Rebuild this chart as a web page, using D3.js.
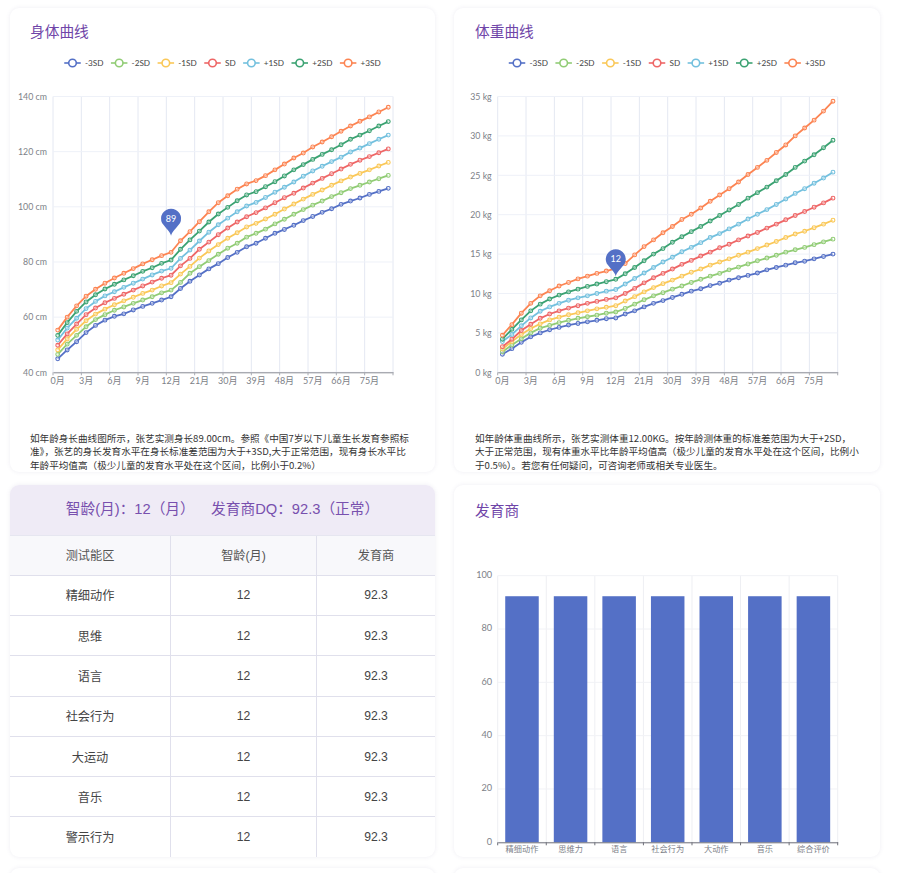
<!DOCTYPE html>
<html>
<head>
<meta charset="utf-8">
<script src="https://cdn.jsdelivr.net/npm/d3@7"></script>
<style>
  html, body { margin: 0; padding: 0; background: #fff; }
  body { position: relative; width: 900px; height: 873px; overflow: hidden; font-family: "Noto Sans CJK SC", sans-serif; }
  .card { position: absolute; background: #fff; border-radius: 9px; box-shadow: 0 0 4px rgba(90, 80, 140, 0.10); overflow: hidden; }
  .title { position: absolute; color: #6f45a8; font-size: 14.7px; line-height: 20px; }
  .desc { position: absolute; color: #333; font-size: 9.6px; line-height: 13.4px; white-space: nowrap; }
  #page { position: absolute; left: 0; top: 0; }
  .dq-head { position: absolute; left: 0; top: 0; width: 100%; height: 49.5px; line-height: 49.5px; background: #efebf6; color: #7850ae; font-size: 14.7px; text-align: center; font-family: "Liberation Sans", "Noto Sans CJK SC", sans-serif; white-space: pre; }
  table { position: absolute; left: 0; top: 49.5px; width: 425px; border-collapse: collapse; table-layout: fixed; font-family: "Liberation Sans", "Noto Sans CJK SC", sans-serif; font-size: 12.2px; color: #444; }
  th, td { text-align: center; padding: 0; height: 39.3px; border-left: 1px solid #e0e0ec; border-top: 1px solid #e0e0ec; font-weight: normal; }
  th { background: #f8f8fb; height: 39.2px; color: #555; }
  th:first-child, td:first-child { border-left: none; }
  th { border-top: 1px solid #e6e6f0; }
</style>
</head>
<body>
<script>
const months = ["0月","1月","2月","3月","4月","5月","6月","7月","8月","9月","10月","11月","12月",
  "15月","18月","21月","24月","27月","30月","33月","36月","39月","42月","45月","48月","51月","54月","57月","60月","63月","66月","69月","72月","75月","78月","81月"];
const sdNames = ["-3SD","-2SD","-1SD","SD","+1SD","+2SD","+3SD"];
const sdColors = ["#5470c6","#91cc75","#fac858","#ee6666","#73c0de","#3ba272","#fc8452"];

// 身长 cm
const heightM3 = [44.9,48.1,51.1,54.4,57.0,58.9,60.3,61.2,62.6,63.9,65.0,66.2,67.4,70.4,73.0,75.3,77.5,79.4,81.6,83.5,85.5,86.8,88.6,90.4,91.8,93.3,95.0,96.5,98.0,99.3,100.9,102.1,103.2,104.5,105.6,106.7];
const heightM2 = [46.5,50.2,53.4,56.5,59.1,60.9,62.5,63.7,65.0,66.2,67.4,68.8,69.8,72.6,75.9,78.3,80.5,82.8,85.0,86.8,89.0,90.4,91.9,93.8,95.5,97.3,99.0,100.6,102.1,103.7,105.1,106.6,107.8,109.0,110.2,111.4];
const heightM1 = [48.1,52.1,55.6,58.7,61.1,62.9,64.5,65.9,67.2,68.6,69.8,71.3,72.5,75.6,78.4,81.4,84.0,86.3,88.6,90.6,92.7,94.0,95.6,97.3,99.2,101.0,102.8,104.5,106.1,107.8,109.4,110.8,112.1,113.4,114.8,116.1];
const heightSD = [49.8,53.9,57.5,60.9,63.3,65.2,66.8,68.3,69.8,71.3,72.7,74.1,75.2,78.6,81.3,84.6,87.2,89.9,92.3,94.5,96.4,97.9,99.6,101.5,103.3,104.9,106.8,108.6,110.3,112.0,113.7,115.4,116.9,118.2,119.6,121.0];
const heightP1 = [51.7,56.0,59.6,63.1,65.7,67.7,69.2,70.8,72.3,73.8,75.3,76.7,77.7,81.3,84.3,87.6,90.8,93.5,95.9,98.2,100.3,101.6,103.4,105.3,107.1,109.0,111.1,113.0,114.7,116.4,118.0,119.9,121.3,122.9,124.5,126.0];
const heightP2 = [53.4,58.0,62.1,65.5,68.1,70.2,71.9,73.5,75.0,76.6,77.9,79.5,80.7,84.6,88.0,91.2,94.5,97.4,99.8,102.2,104.3,105.5,107.3,109.1,111.2,113.4,115.3,117.2,119.0,120.7,122.5,124.5,126.0,127.6,129.3,130.9];
const heightP3 = [55.3,60.0,64.1,67.6,70.1,72.3,74.2,75.9,77.6,79.3,80.8,82.3,83.5,87.7,91.0,94.6,98.2,101.5,104.0,106.4,108.3,109.5,111.3,113.4,115.5,117.7,119.5,121.7,123.5,125.4,127.4,129.3,131.0,132.6,134.4,136.1];

// 体重 kg
const weightM3 = [2.3,3.0,3.8,4.5,5.0,5.4,5.7,6.0,6.2,6.4,6.6,6.8,6.9,7.4,7.8,8.3,8.75,9.1,9.5,9.9,10.3,10.6,11.0,11.3,11.7,12.0,12.3,12.6,13.0,13.3,13.6,13.9,14.1,14.4,14.7,15.0];
const weightM2 = [2.6,3.45,4.25,5.0,5.6,5.95,6.3,6.6,6.85,7.05,7.25,7.5,7.65,8.1,8.65,9.2,9.7,10.1,10.55,10.95,11.4,11.8,12.2,12.55,13.0,13.35,13.75,14.15,14.5,14.85,15.25,15.55,15.85,16.2,16.55,16.9];
const weightM1 = [2.95,3.9,4.8,5.55,6.15,6.65,7.0,7.3,7.55,7.8,8.05,8.25,8.45,9.05,9.6,10.2,10.75,11.25,11.7,12.2,12.7,13.1,13.6,14.0,14.4,14.85,15.25,15.7,16.15,16.6,17.1,17.55,17.9,18.35,18.8,19.3];
const weightSD = [3.25,4.2,5.3,6.1,6.85,7.4,7.8,8.15,8.45,8.75,9.0,9.25,9.45,10.0,10.65,11.35,12.0,12.55,13.1,13.7,14.2,14.75,15.25,15.8,16.25,16.8,17.3,17.75,18.3,18.8,19.35,19.9,20.4,20.95,21.5,22.1];
const weightP1 = [3.9,4.8,5.9,6.9,7.75,8.3,8.75,9.15,9.45,9.7,10.0,10.3,10.5,11.2,11.9,12.6,13.3,14.0,14.6,15.3,15.85,16.45,17.1,17.6,18.2,18.8,19.45,20.05,20.65,21.3,22.0,22.7,23.3,24.0,24.65,25.4];
const weightP2 = [4.2,5.45,6.65,7.8,8.65,9.3,9.8,10.2,10.55,10.9,11.2,11.5,11.8,12.5,13.3,14.15,15.0,15.7,16.5,17.2,17.85,18.5,19.2,19.9,20.6,21.3,22.1,22.8,23.5,24.3,25.1,26.0,26.8,27.6,28.5,29.45];
const weightP3 = [4.7,6.05,7.5,8.75,9.7,10.35,10.95,11.4,11.85,12.2,12.55,12.85,13.2,13.8,14.9,15.95,16.8,17.7,18.5,19.4,20.05,20.85,21.7,22.5,23.3,24.15,25.1,26.0,26.9,27.9,28.85,30.0,31.0,32.0,33.15,34.4];

const heightTicks = [40,60,80,100,120,140];
const weightTicks = [0,5,10,15,20,25,30,35];

const areas = ["精细动作","思维","语言","社会行为","大运动","音乐","警示行为"];
const areaAges = [12,12,12,12,12,12,12];
const areaDQ = [92.3,92.3,92.3,92.3,92.3,92.3,92.3];
const barNames = ["精细动作","思维力","语言","社会行为","大动作","音乐","综合评价"];
const barValues = [92.3,92.3,92.3,92.3,92.3,92.3,92.3];
const barTicks = [0,20,40,60,80,100];

const heightText = ["如年龄身长曲线图所示，张艺实测身长89.00cm。参照《中国7岁以下儿童生长发育参照标",
  "准》，张艺的身长发育水平在身长标准差范围为大于+3SD,大于正常范围，现有身长水平比",
  "年龄平均值高（极少儿童的发育水平处在这个区间，比例小于0.2%）"];
const weightText = ["如年龄体重曲线所示，张艺实测体重12.00KG。按年龄测体重的标准差范围为大于+2SD，",
  "大于正常范围，现有体重水平比年龄平均值高（极少儿童的发育水平处在这个区间，比例小",
  "于0.5%）。若您有任何疑问，可咨询老师或相关专业医生。"];

const body = d3.select("body");

function addCard(x, y, w, h) {
  return body.append("div").attr("class", "card")
    .style("left", x + "px").style("top", y + "px")
    .style("width", w + "px").style("height", h + "px");
}
function addTitle(text, x, y) {
  body.append("div").attr("class", "title")
    .style("left", x + "px").style("top", y + "px").text(text);
}
function addDesc(lines, x, y) {
  const d = body.append("div").attr("class", "desc")
    .style("left", x + "px").style("top", y + "px");
  lines.forEach(l => d.append("div").text(l));
}

addCard(10, 8, 425, 464);
addCard(454, 8, 426, 464);
const dqCard = addCard(10, 485, 425, 372);
addCard(454, 485, 426, 372);
addCard(10, 868, 425, 40);
addCard(454, 868, 426, 40);

addTitle("身体曲线", 30, 20.5);
addTitle("体重曲线", 475, 20.5);
addTitle("发育商", 475, 500);
addDesc(heightText, 30, 432);
addDesc(weightText, 475, 432);

// 能区表
dqCard.append("div").attr("class", "dq-head").text("智龄(月)：12（月）    发育商DQ：92.3（正常）");
const table = dqCard.append("table");
const colgroup = table.append("colgroup");
[160.5, 146, 118.5].forEach(w => colgroup.append("col").style("width", w + "px"));
const headRow = table.append("thead").append("tr");
["测试能区","智龄(月)","发育商"].forEach(t => headRow.append("th").text(t));
const rows = table.append("tbody").selectAll("tr").data(areas).enter().append("tr");
rows.append("td").text(d => d);
rows.append("td").text((d, i) => areaAges[i]);
rows.append("td").text((d, i) => areaDQ[i]);

const svg = body.append("svg").attr("id", "page").attr("width", 900).attr("height", 873);
const latin = "Lato, 'Noto Sans CJK SC', sans-serif";

function drawLegend(cx, y) {
  const g = svg.append("g").attr("transform", `translate(0,${y})`);
  let pos = 0;
  sdNames.forEach((name, i) => {
    const item = g.append("g").attr("transform", `translate(${pos},0)`);
    item.append("line").attr("x1", 0).attr("x2", 16.5)
      .attr("stroke", sdColors[i]).attr("stroke-width", 1.6);
    item.append("circle").attr("cx", 8.25).attr("r", 3.8)
      .attr("fill", "#fff").attr("stroke", sdColors[i]).attr("stroke-width", 1.6);
    const t = item.append("text").attr("x", 20.7).attr("dy", "0.35em")
      .attr("fill", "#444").attr("font-size", 8.2).attr("font-family", latin).text(name);
    pos += 20.7 + t.node().getComputedTextLength() + 7.5;
  });
  g.attr("transform", `translate(${cx - (pos - 7.5) / 2},${y})`);
}

function drawCurves(left, yDomain, yTicks, unit, series, pinIndex, pinValue) {
  const margin = { top: 96.5, bottom: 372.3 };
  const width = 340;
  const g = svg.append("g");

  const x = d3.scaleBand().domain(months).range([left, left + width]);
  const y = d3.scaleLinear().domain(yDomain).range([margin.bottom, margin.top]);

  // 纵向网格 每3个类目一条
  const splitX = months.filter((d, i) => i % 3 === 0).map(d => x(d)).concat([left + width]);
  g.selectAll(".vgrid").data(splitX).enter().append("line")
    .attr("x1", d => d).attr("x2", d => d)
    .attr("y1", margin.top).attr("y2", margin.bottom)
    .attr("stroke", "#e4e8f2").attr("stroke-width", 1);
  g.selectAll(".hgrid").data(yTicks).enter().append("line")
    .attr("x1", left).attr("x2", left + width)
    .attr("y1", d => y(d)).attr("y2", d => y(d))
    .attr("stroke", "#eef1f8").attr("stroke-width", 1);

  const yAxis = g.append("g").attr("transform", `translate(${left},0)`)
    .call(d3.axisLeft(y).tickValues(yTicks).tickSize(0).tickPadding(6).tickFormat(d => d + " " + unit));
  yAxis.select(".domain").remove();
  yAxis.selectAll("text").attr("fill", "#7d7f88").attr("font-size", 8.8).attr("font-family", latin);

  const xAxis = g.append("g").attr("transform", `translate(0,${margin.bottom})`)
    .call(d3.axisBottom(x).tickValues(months.filter((d, i) => i % 3 === 0)).tickSize(0).tickPadding(5));
  xAxis.select(".domain").attr("stroke", "#8a8c94");
  xAxis.selectAll("text").attr("fill", "#7d7f88").attr("font-size", 9).attr("font-family", latin);
  g.selectAll(".xtick").data(splitX).enter().append("line")
    .attr("x1", d => d).attr("x2", d => d)
    .attr("y1", margin.bottom).attr("y2", margin.bottom + 3)
    .attr("stroke", "#a8aab2");

  const line = d3.line().x((d, i) => x(months[i]) + x.bandwidth() / 2).y(d => y(d));
  series.forEach((values, s) => {
    g.append("path").datum(values).attr("d", line)
      .attr("fill", "none").attr("stroke", sdColors[s]).attr("stroke-width", 1.8);
    g.selectAll(".pt" + s).data(values).enter().append("circle")
      .attr("cx", (d, i) => x(months[i]) + x.bandwidth() / 2)
      .attr("cy", d => y(d)).attr("r", 1.9)
      .attr("fill", "#fff").attr("fill-opacity", 0.45)
      .attr("stroke", sdColors[s]).attr("stroke-width", 1.1);
  });

  // 标记点
  const r = 10, cy = -17;
  const pin = d3.path();
  pin.moveTo(0, 0);
  pin.bezierCurveTo(-0.8, -4, -5.5, -7.5, -r * Math.cos(Math.PI / 7), cy + r * Math.sin(Math.PI / 7));
  pin.arc(0, cy, r, Math.PI * 6 / 7, Math.PI / 7);
  pin.bezierCurveTo(5.5, -7.5, 0.8, -4, 0, 0);
  const p = g.append("g")
    .attr("transform", `translate(${x(months[pinIndex]) + x.bandwidth() / 2},${y(pinValue) - 1.5})`);
  p.append("path").attr("d", pin.toString()).attr("fill", "#5470c6");
  p.append("text").attr("y", cy).attr("dy", "0.35em").attr("text-anchor", "middle")
    .attr("fill", "#fff").attr("font-size", 9).attr("font-family", latin).text(pinValue);
}

function drawBars() {
  const left = 497.7, right = 837.7, top = 575.7, bottom = 842.3;
  const g = svg.append("g");
  const x = d3.scaleBand().domain(barNames).range([left, right]).paddingInner(0.31).paddingOuter(0.155);
  const y = d3.scaleLinear().domain([0, 100]).range([bottom, top]);
  const splitX = barNames.map(d => x(d) - x.step() * 0.155).concat([right]);

  g.selectAll(".vgrid").data(splitX).enter().append("line")
    .attr("x1", d => d).attr("x2", d => d).attr("y1", top).attr("y2", bottom)
    .attr("stroke", "#eeeff3");
  g.selectAll(".hgrid").data(barTicks).enter().append("line")
    .attr("x1", left).attr("x2", right).attr("y1", d => y(d)).attr("y2", d => y(d))
    .attr("stroke", "#f1f2f6");

  const yAxis = g.append("g").attr("transform", `translate(${left},0)`)
    .call(d3.axisLeft(y).tickValues(barTicks).tickSize(0).tickPadding(5.5));
  yAxis.select(".domain").remove();
  yAxis.selectAll("text").attr("fill", "#7d7f88").attr("font-size", 9.2).attr("dy", "0.2em").attr("font-family", latin);

  g.selectAll(".bar").data(barValues).enter().append("rect")
    .attr("x", (d, i) => x(barNames[i])).attr("width", x.bandwidth())
    .attr("y", d => y(d)).attr("height", d => y(0) - y(d))
    .attr("fill", "#5470c6");

  const xAxis = g.append("g").attr("transform", `translate(0,${bottom})`)
    .call(d3.axisBottom(x).tickSize(0).tickPadding(4));
  xAxis.select(".domain").attr("stroke", "#6e7079");
  xAxis.selectAll("text").attr("fill", "#7d7f88").attr("font-size", 8.2).attr("font-family", latin);
  g.selectAll(".xtick").data(splitX).enter().append("line")
    .attr("x1", d => d).attr("x2", d => d).attr("y1", bottom).attr("y2", bottom + 3)
    .attr("stroke", "#6e7079");
}

drawLegend(222.5, 63);
drawLegend(667, 63);
drawCurves(53, [40, 140], heightTicks, "cm", [heightM3, heightM2, heightM1, heightSD, heightP1, heightP2, heightP3], 12, 89);
drawCurves(497.7, [0, 35], weightTicks, "kg", [weightM3, weightM2, weightM1, weightSD, weightP1, weightP2, weightP3], 12, 12);
drawBars();
</script>
</body>
</html>
